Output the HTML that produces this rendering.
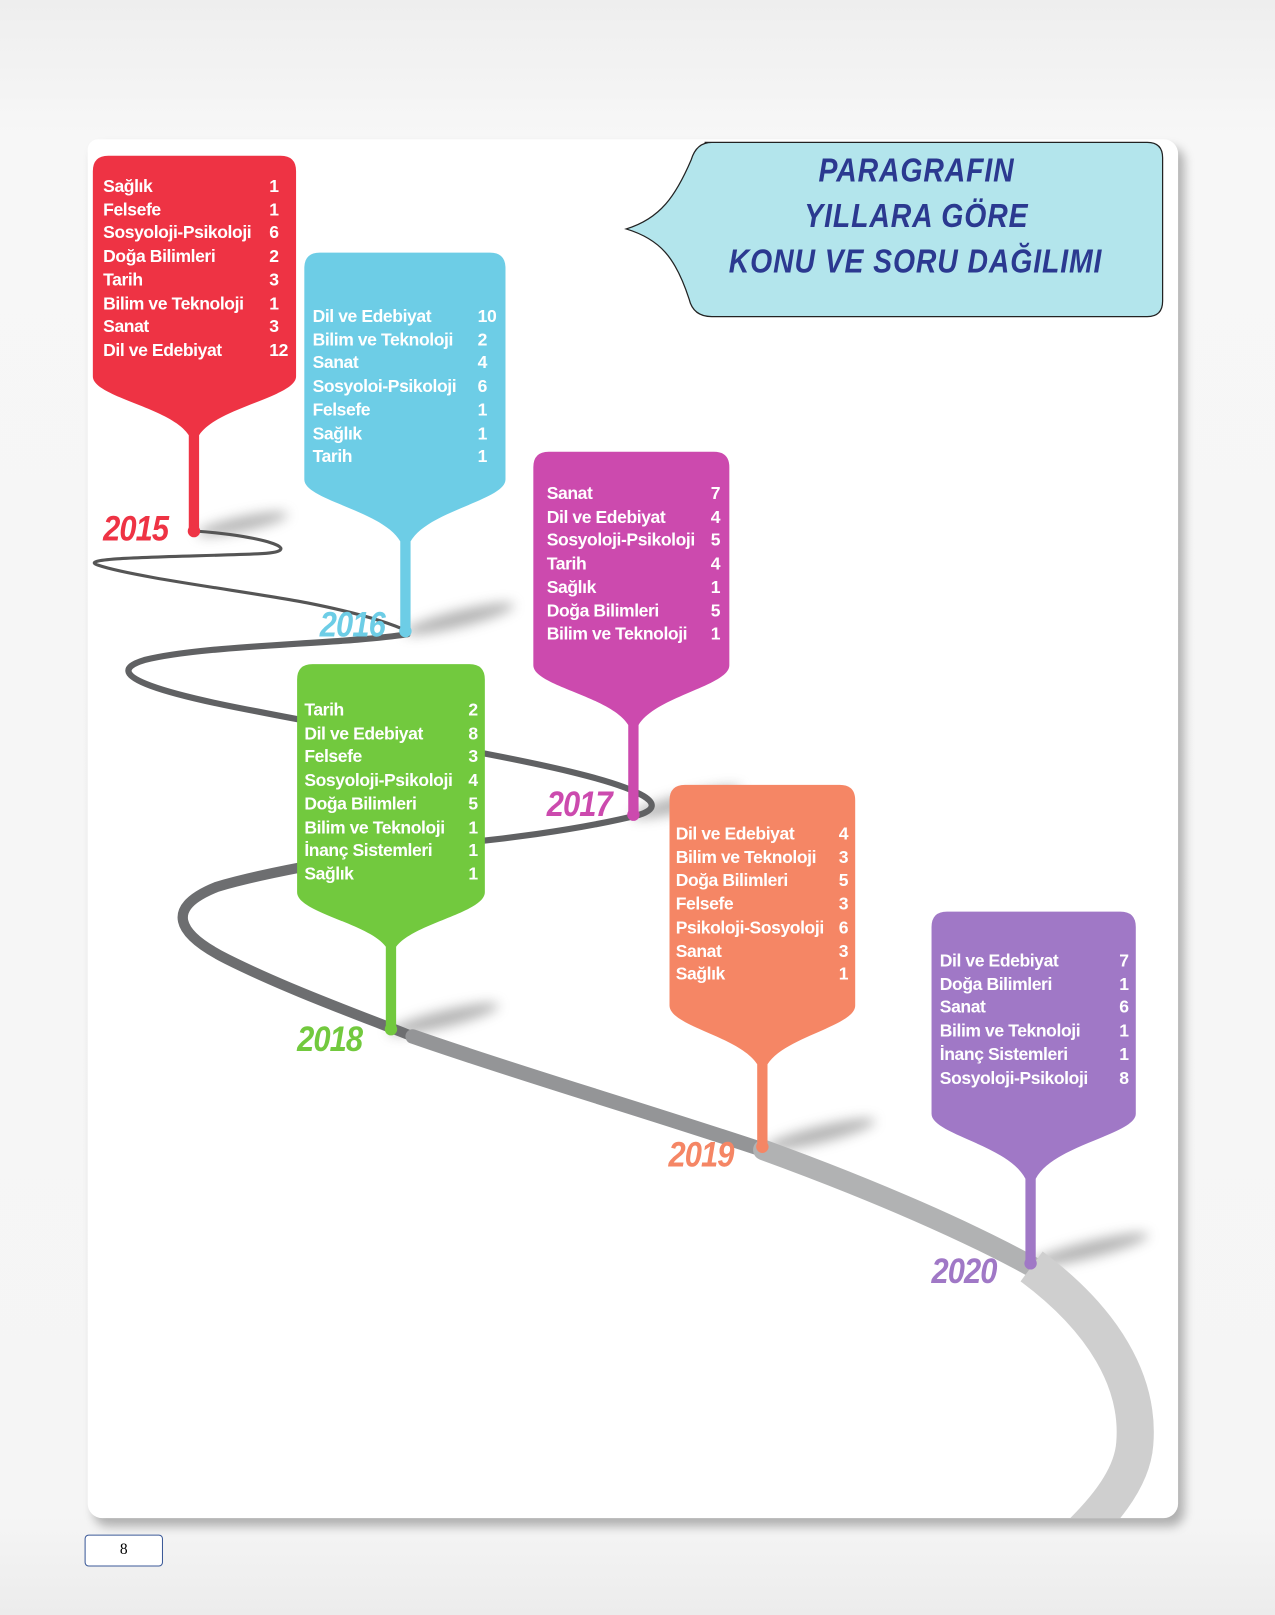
<!DOCTYPE html>
<html><head><meta charset="utf-8">
<style>
html,body{margin:0;padding:0;}
body{width:1275px;height:1615px;overflow:hidden;background:#f2f2f2;}
#w{position:absolute;left:0;top:0;width:1236px;height:1566px;transform:scale(1.0316,1.0313);transform-origin:0 0;
background:linear-gradient(#eeeeee,#f7f7f7 130px,#f5f5f5 1470px,#ececec);}
.card{position:absolute;left:85px;top:135px;width:1057px;height:1337px;background:#fff;border-radius:10px 14px 14px 14px;box-shadow:6px 8px 10px rgba(0,0,0,.28);}
.t{position:absolute;font-family:"Liberation Sans",Arial,sans-serif;font-weight:bold;font-size:17px;color:#fff;letter-spacing:-0.4px;line-height:22.7px;white-space:nowrap;}
.yr{position:absolute;font-family:"Liberation Sans",sans-serif;font-weight:bold;font-style:italic;font-size:34px;letter-spacing:-1px;transform:scaleX(.88);transform-origin:0 0;}
.title{position:absolute;left:668px;width:440px;text-align:center;white-space:nowrap;font-family:"Liberation Sans",sans-serif;font-weight:bold;font-style:italic;font-size:32px;color:#2b3990;letter-spacing:1px;line-height:44px;top:143px;}
.title span{display:inline-block;transform:scaleX(.86);}
</style></head><body><div id="w">
<div class="card"></div>
<svg width="1236" height="1566" style="position:absolute;left:0;top:0">
<defs>
<filter id="bl"><feGaussianBlur stdDeviation="6"/></filter>
<clipPath id="cc"><rect x="85" y="135" width="1057" height="1337"/></clipPath>
</defs>
<g fill="#777" opacity=".55" filter="url(#bl)">
<ellipse cx="235" cy="508" rx="45" ry="7" transform="rotate(-12 235 508)"/>
<ellipse cx="445" cy="600" rx="55" ry="8" transform="rotate(-14 445 600)"/>
<ellipse cx="665" cy="778" rx="55" ry="8" transform="rotate(-14 665 778)"/>
<ellipse cx="430" cy="988" rx="55" ry="8" transform="rotate(-14 430 988)"/>
<ellipse cx="795" cy="1100" rx="55" ry="8" transform="rotate(-14 795 1100)"/>
<ellipse cx="1055" cy="1212" rx="60" ry="8" transform="rotate(-14 1055 1212)"/>
</g>
<g fill="none" stroke-linecap="round" clip-path="url(#cc)">
<path d="M190,515 C260,520 300,535 250,537 C180,540 70,540 95,548 C130,560 250,575 300,585 C350,595 380,605 395,612" stroke="#555" stroke-width="3"/>
<path d="M395,615 C330,625 200,625 140,640 C90,655 170,675 250,690 C350,710 480,730 560,750 C620,765 650,780 620,790 C560,805 480,815 420,820" stroke="#606163" stroke-width="6"/>
<path d="M420,820 C350,830 260,845 210,860 C160,880 170,905 220,930 C280,960 350,985 400,1005" stroke="#6d6e70" stroke-width="10"/>
<path d="M400,1005 C500,1040 620,1075 740,1115" stroke="#949597" stroke-width="14"/>
<path d="M740,1115 C850,1155 940,1195 1000,1228" stroke="#b1b2b3" stroke-width="20"/>
<path d="M1000,1228 C1070,1280 1105,1340 1100,1400 C1097,1440 1060,1475 1040,1495" stroke="#cfcfcf" stroke-width="36" stroke-linecap="butt"/>
</g>
<path d="M683,138 H1112 Q1127,138 1127,153 V292 Q1127,307 1112,307 H690 Q672,307 668,290 C655,250 640,232 607,222 C640,212 655,190 670,155 Q675,138 690,138 Z" fill="#b3e5ec" stroke="#222" stroke-width="1.2"/>
<g>
<path d="M90,166 Q90,151 105,151 H272 Q287,151 287,166 V365 C287,385 210,395 193,422 V515 H183 V422 C166,395 90,385 90,365 Z" fill="#ee3344"/><circle cx="188" cy="515" r="6" fill="#ee3344"/>
<path d="M295,260 Q295,245 310,245 H475 Q490,245 490,260 V465 C490,485 415,495 398,525 V612 H388 V525 C371,495 295,485 295,465 Z" fill="#6dcde6"/><circle cx="393" cy="612" r="6" fill="#6dcde6"/>
<path d="M517,453 Q517,438 532,438 H692 Q707,438 707,453 V645 C707,665 636,675 619,703 V790 H609 V703 C592,675 517,665 517,645 Z" fill="#cc4aae"/><circle cx="614" cy="790" r="6" fill="#cc4aae"/>
<path d="M288,659 Q288,644 303,644 H455 Q470,644 470,659 V865 C470,885 401,895 384,918 V998 H374 V918 C357,895 288,885 288,865 Z" fill="#72c93e"/><circle cx="379" cy="998" r="6" fill="#72c93e"/>
<path d="M649,776 Q649,761 664,761 H814 Q829,761 829,776 V975 C829,995 761,1005 744,1032 V1112 H734 V1032 C717,1005 649,995 649,975 Z" fill="#f58665"/><circle cx="739" cy="1112" r="6" fill="#f58665"/>
<path d="M903,899 Q903,884 918,884 H1086 Q1101,884 1101,899 V1080 C1101,1100 1021,1110 1004,1143 V1225 H994 V1143 C977,1110 903,1100 903,1080 Z" fill="#a078c6"/><circle cx="999" cy="1225" r="6" fill="#a078c6"/>
</g>
</svg>
<div class="title"><span>PARAGRAFIN</span><br><span>YILLARA GÖRE</span><br><span>KONU VE SORU DAĞILIMI</span></div>

<div class="t" style="left:100px;top:170px">Sağlık<br>Felsefe<br>Sosyoloji-Psikoloji<br>Doğa Bilimleri<br>Tarih<br>Bilim ve Teknoloji<br>Sanat<br>Dil ve Edebiyat</div>
<div class="t" style="left:261px;top:170px">1<br>1<br>6<br>2<br>3<br>1<br>3<br>12</div>

<div class="t" style="left:303px;top:296px">Dil ve Edebiyat<br>Bilim ve Teknoloji<br>Sanat<br>Sosyoloi-Psikoloji<br>Felsefe<br>Sağlık<br>Tarih</div>
<div class="t" style="left:463px;top:296px">10<br>2<br>4<br>6<br>1<br>1<br>1</div>

<div class="t" style="left:530px;top:468px">Sanat<br>Dil ve Edebiyat<br>Sosyoloji-Psikoloji<br>Tarih<br>Sağlık<br>Doğa Bilimleri<br>Bilim ve Teknoloji</div>
<div class="t" style="left:689px;top:468px">7<br>4<br>5<br>4<br>1<br>5<br>1</div>

<div class="t" style="left:295px;top:678px">Tarih<br>Dil ve Edebiyat<br>Felsefe<br>Sosyoloji-Psikoloji<br>Doğa Bilimleri<br>Bilim ve Teknoloji<br>İnanç Sistemleri<br>Sağlık</div>
<div class="t" style="left:454px;top:678px">2<br>8<br>3<br>4<br>5<br>1<br>1<br>1</div>

<div class="t" style="left:655px;top:798px">Dil ve Edebiyat<br>Bilim ve Teknoloji<br>Doğa Bilimleri<br>Felsefe<br>Psikoloji-Sosyoloji<br>Sanat<br>Sağlık</div>
<div class="t" style="left:813px;top:798px">4<br>3<br>5<br>3<br>6<br>3<br>1</div>

<div class="t" style="left:911px;top:921px">Dil ve Edebiyat<br>Doğa Bilimleri<br>Sanat<br>Bilim ve Teknoloji<br>İnanç Sistemleri<br>Sosyoloji-Psikoloji</div>
<div class="t" style="left:1085px;top:921px">7<br>1<br>6<br>1<br>1<br>8</div>

<div class="yr" style="left:100px;top:494px;color:#ee3344">2015</div>
<div class="yr" style="left:310px;top:587px;color:#6dcde6">2016</div>
<div class="yr" style="left:530px;top:761px;color:#cc4aae">2017</div>
<div class="yr" style="left:288px;top:989px;color:#72c93e">2018</div>
<div class="yr" style="left:648px;top:1101px;color:#f58665">2019</div>
<div class="yr" style="left:903px;top:1214px;color:#a078c6">2020</div>

<div style="position:absolute;left:82px;top:1488px;width:74px;height:29px;border:1px solid #3b5998;border-radius:4px;background:#fff;text-align:center;font-family:'Liberation Serif',serif;font-size:15px;line-height:29px;">8</div>
</div></body></html>
